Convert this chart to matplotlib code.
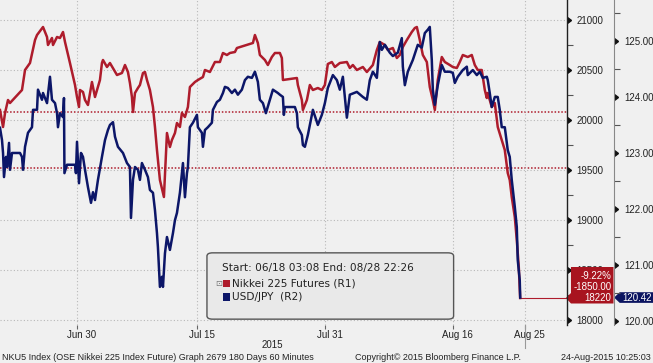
import numpy as np
import pandas as pd
import matplotlib
matplotlib.use("Agg")
import matplotlib.pyplot as plt
import matplotlib.transforms as mtransforms
from matplotlib.patches import Polygon, FancyBboxPatch, Rectangle

# time axis: fractional days since 2015-06-18 (60 minute bars)
start = pd.Timestamp("2015-06-18")

# Nikkei 225 futures (R1)
nk_days = [2.38, 2.76, 3.01, 3.38, 3.63, 5.13, 5.26, 5.51, 6.13, 6.76,
           7.01, 7.76, 8.26, 8.38, 8.88, 9.01, 9.51, 9.88, 10.26, 10.51,
           11.13, 11.76, 12.01, 12.26, 12.38, 12.76, 13.01, 13.38, 13.88, 14.26,
           14.88, 15.13, 15.26, 15.76, 16.13, 17.01, 17.63, 18.01, 18.38, 18.63,
           18.88, 19.01, 19.26, 19.63, 19.88, 20.26, 20.51, 20.76, 21.13, 21.51,
           21.76, 22.01, 22.38, 22.88, 23.26, 23.63, 23.88, 24.26, 24.51, 24.88,
           25.13, 25.51, 25.88, 26.13, 26.76, 27.13, 27.76, 28.01, 28.63, 29.26,
           29.88, 30.26, 30.76, 31.13, 31.76, 32.01, 34.01, 34.26, 34.63, 34.88,
           35.51, 35.88, 36.38, 36.76, 37.38, 37.63, 37.76, 39.51, 39.63, 40.13,
           40.26, 40.76, 41.13, 41.51, 42.13, 42.63, 43.01, 43.38, 43.88, 44.26,
           44.88, 45.76, 46.13, 46.51, 47.01, 47.76, 48.26, 49.01, 49.51, 49.88,
           50.51, 50.88, 51.51, 52.01, 52.38, 52.76, 53.26, 53.88, 54.26, 54.51,
           54.88, 55.26, 55.76, 56.13, 56.51, 56.76, 57.13, 57.63, 58.01, 58.63,
           59.01, 59.51, 59.88, 60.26, 60.88, 61.38, 61.76, 62.13, 62.63, 63.01,
           63.26, 63.38, 63.88, 64.26, 64.63, 65.13, 65.51, 65.88, 66.13, 66.38,
           66.76, 67.01, 67.26, 67.43]
nk_vals = [20100, 19930, 20070, 20200, 20170, 20300, 20370, 20500, 20570, 20800,
           20850, 20930, 20830, 20750, 20820, 20750, 20830, 20820, 20880, 20780,
           20570, 20350, 20230, 20130, 20300, 20280, 20200, 20150, 20380, 20230,
           20400, 20570, 20600, 20530, 20570, 20450, 20470, 20550, 20480, 20370,
           20230, 20080, 20270, 20320, 20350, 20470, 20480, 20400, 20300, 20130,
           19930, 19700, 19400, 19230, 19870, 19730, 19800, 19870, 19970, 19930,
           20070, 20030, 20130, 20330, 20380, 20400, 20430, 20500, 20480, 20580,
           20580, 20670, 20650, 20670, 20680, 20720, 20770, 20850, 20770, 20650,
           20600, 20550, 20630, 20670, 20670, 20620, 20400, 20420, 20350, 20200,
           20100, 20200, 20350, 20300, 20320, 20300, 20350, 20560, 20580, 20530,
           20570, 20580, 20520, 20550, 20500, 20530, 20480, 20550, 20700, 20780,
           20750, 20700, 20720, 20620, 20650, 20730, 20800, 20880, 20920, 20930,
           20800, 20650, 20580, 20330, 20200, 20100, 20400, 20630, 20580, 20550,
           20530, 20520, 20580, 20650, 20630, 20650, 20550, 20500, 20500, 20300,
           20220, 20270, 20130, 20170, 19930, 19800, 19700, 19470, 19400, 19230,
           19030, 18800, 18530, 18220]

# USD/JPY (R2)
fx_days = [2.38, 2.63, 2.76, 2.88, 3.13, 3.26, 3.51, 3.63, 3.88, 4.88,
           5.13, 5.26, 5.51, 5.88, 6.38, 6.51, 7.01, 7.13, 7.63, 7.76,
           8.26, 8.63, 8.88, 9.26, 9.51, 9.63, 9.88, 10.26, 10.38, 10.44,
           10.76, 11.76, 11.88, 12.01, 12.26, 12.51, 12.76, 13.01, 13.38, 13.76,
           14.01, 14.26, 14.63, 15.13, 15.51, 15.88, 16.13, 16.51, 16.76, 17.13,
           17.76, 18.26, 18.63, 18.76, 19.01, 19.26, 19.63, 19.88, 20.13, 20.51,
           20.88, 21.13, 21.51, 21.76, 22.01, 22.13, 22.38, 22.63, 22.76, 23.01,
           23.26, 23.63, 24.01, 24.26, 24.51, 24.88, 25.26, 25.51, 25.76, 25.88,
           26.13, 26.51, 27.01, 27.13, 27.63, 27.76, 28.01, 28.38, 28.88, 29.01,
           29.51, 29.88, 30.26, 30.51, 30.88, 31.38, 31.76, 32.13, 32.63, 33.01,
           33.38, 33.88, 34.26, 34.63, 34.88, 35.26, 35.63, 36.13, 36.51, 37.13,
           37.38, 37.76, 37.88, 38.01, 39.26, 39.51, 39.63, 40.13, 40.26, 40.51,
           40.88, 41.13, 41.51, 42.13, 42.63, 43.01, 43.38, 44.01, 44.51, 44.88,
           45.26, 45.76, 46.13, 47.01, 47.76, 48.26, 48.63, 49.01, 49.51, 49.88,
           50.13, 50.51, 51.13, 51.51, 52.13, 52.63, 52.76, 53.01, 53.38, 54.01,
           54.63, 55.13, 55.51, 55.88, 56.13, 56.38, 56.51, 56.76, 57.13, 57.63,
           58.01, 58.63, 59.01, 59.26, 59.63, 60.26, 60.76, 60.88, 61.51, 62.01,
           62.38, 62.76, 63.26, 63.38, 63.63, 63.88, 64.26, 64.63, 64.88, 65.13,
           65.51, 65.88, 66.13, 66.38, 66.76, 67.01, 67.13, 67.38, 67.44]
fx_vals = [123.45, 123.23, 123.00, 122.57, 122.93, 122.75, 123.18, 122.70, 123.00, 123.00,
           122.93, 122.70, 123.11, 123.36, 123.46, 123.77, 123.77, 124.13, 123.95, 124.07,
           123.89, 124.36, 123.95, 123.89, 123.71, 123.46, 123.71, 123.64, 123.98, 122.64,
           122.79, 122.79, 122.64, 123.20, 122.46, 123.00, 122.93, 122.70, 122.39, 122.11,
           122.30, 122.16, 122.52, 122.93, 123.23, 123.41, 123.50, 123.55, 123.29, 123.11,
           123.00, 122.82, 122.75, 121.84, 122.52, 122.75, 122.70, 122.52, 122.82, 122.70,
           122.57, 122.34, 122.29, 121.98, 121.57, 121.32, 120.61, 120.79, 120.61, 121.21,
           121.50, 121.27, 121.57, 121.80, 121.93, 122.29, 122.82, 122.21, 122.64, 122.75,
           123.46, 123.54, 123.68, 123.46, 123.36, 123.11, 123.41, 123.46, 123.54, 123.77,
           123.91, 123.95, 124.07, 124.18, 124.16, 124.07, 124.13, 124.04, 124.13, 124.30,
           124.36, 124.34, 124.45, 124.27, 123.95, 123.89, 123.71, 123.95, 124.13, 124.07,
           124.04, 124.00, 123.68, 123.82, 123.82, 123.71, 123.46, 123.32, 123.14, 123.11,
           123.32, 123.50, 123.77, 123.50, 123.68, 123.89, 124.16, 124.39, 124.30, 124.13,
           124.36, 123.63, 124.04, 124.09, 124.00, 123.95, 124.30, 124.45, 124.34, 124.98,
           124.84, 124.93, 124.79, 124.73, 124.79, 125.05, 124.54, 124.21, 124.45, 124.66,
           124.93, 124.88, 125.14, 125.20, 125.25, 124.66, 124.13, 123.86, 124.21, 124.57,
           124.45, 124.45, 124.43, 124.25, 124.36, 124.48, 124.54, 124.39, 124.48, 124.39,
           124.45, 124.34, 124.36, 124.30, 124.07, 123.82, 124.00, 124.00, 123.77, 123.46,
           123.46, 123.05, 122.93, 122.52, 122.04, 121.68, 121.09, 120.73, 120.42]

tick_dates = ["2015-06-30", "2015-07-15", "2015-07-31", "2015-08-16", "2015-08-25"]
tick_labels = ["Jun 30", "Jul 15", "Jul 31", "Aug 16", "Aug 25"]
r1_ticks = [18000, 18500, 19000, 19500, 20000, 20500, 21000]
r2_ticks = [120, 121, 122, 123, 124, 125]
ref_levels = [20080, 19520]
nk_badge = ["-9.22%", "-1850.00", "18220"]
fx_badge = "120.42"

BG = "#f0f0f0"
RED = "#ae1c2c"
NAVY = "#0c1668"
GRID = "#b8b8b8"
SANS = "Liberation Sans"
TXT = "#222222"

fig = plt.figure(figsize=(6.53, 3.63), dpi=100, facecolor=BG)
ax = fig.add_axes([0, 38 / 363, 567 / 653, 325 / 363])
ax.set_facecolor(BG)
ax2 = ax.twinx()

ax.set_xlim(2.38, 73.29)
ax.set_ylim(17950, 21200)
ax2.set_ylim(119.93, 125.73)

for s in ["left", "top", "bottom", "right"]:
    ax.spines[s].set_visible(False)
for s in ["left", "top", "bottom"]:
    ax2.spines[s].set_visible(False)
ax2.spines["right"].set_color("#202020")
ax2.spines["right"].set_linewidth(1)
ax2.set_yticks([])

# separate spine for the R2 scale
ax3 = ax.twinx()
ax3.set_ylim(ax2.get_ylim())
for s in ["left", "top", "bottom"]:
    ax3.spines[s].set_visible(False)
ax3.spines["right"].set_position(("outward", 34))
ax3.spines["right"].set_color("#888888")

# x axis
tick_pos = [(pd.Timestamp(d) - start).days for d in tick_dates]
ax.set_xticks(tick_pos)
ax.set_xticklabels(tick_labels, fontsize=7, family=SANS, color=TXT)
ax.tick_params(axis="x", length=3, width=0.8, color="#666666", pad=0.5)
offset = mtransforms.ScaledTranslation(0.05, 0, fig.dpi_scale_trans)
for lab in ax.get_xticklabels():
    lab.set_transform(lab.get_transform() + offset)

# R1 scale
ax.yaxis.tick_right()
ax.set_yticks(r1_ticks)
ax.set_yticks(np.arange(18250, 21200, 500), minor=True)
ax.set_yticklabels([str(v) for v in r1_ticks], fontsize=7, family=SANS, color=TXT)
ax.tick_params(axis="y", which="major", length=4, width=1, color="#111111", pad=3)
ax.tick_params(axis="y", which="minor", length=4, width=0.8, color="#555555")
for t in ax.yaxis.get_major_ticks():
    t.tick2line.set_marker(9)
    t.tick2line.set_markersize(4)

# R2 scale
ax3.set_yticks(r2_ticks)
ax3.set_yticks(np.arange(120.5, 125.6, 1.0), minor=True)
ax3.set_yticklabels([f"{v:.2f}" for v in r2_ticks], fontsize=7, family=SANS, color=TXT)
ax3.tick_params(axis="y", which="major", length=4, width=1, color="#111111", pad=3)
ax3.tick_params(axis="y", which="minor", length=4, width=0.8, color="#555555")
for t in ax3.yaxis.get_major_ticks():
    t.tick2line.set_marker(9)
    t.tick2line.set_markersize(4)

ax.grid(True, which="major", color=GRID, linestyle=(0, (1, 2)), linewidth=0.8)
for lvl in ref_levels:
    ax.axhline(lvl, color=RED, linestyle=(0, (1, 1.2)), linewidth=1.1, zorder=1.5)

# series
ax.plot(nk_days, nk_vals, color=RED, lw=1.8, zorder=3)
ax.plot([nk_days[-1], ax.get_xlim()[1]], [nk_vals[-1], nk_vals[-1]], color=RED, lw=0.8, zorder=3)
ax2.plot(fx_days, fx_vals, color=NAVY, lw=1.8, zorder=3)

# separator under the last date
ax.axvline(tick_pos[-1], ymin=-0.07, ymax=0, color="#999999", lw=0.8, clip_on=False)

# last value badges
tr1 = mtransforms.blended_transform_factory(ax.transAxes, ax.transData)
last = nk_vals[-1]
ax.add_patch(Polygon([(0.998, last), (1.007, last + 50), (1.007, last + 310),
                      (1.082, last + 310), (1.082, last - 55), (1.007, last - 55)],
                     closed=True, transform=tr1, facecolor="#a8141f",
                     edgecolor="none", clip_on=False, zorder=10))
for i, s in enumerate(nk_badge):
    ax.text(1.078, last + (2 - i) * 112, s, transform=tr1, ha="right", va="center",
            fontsize=7, family=SANS, color="white", clip_on=False, zorder=11)

tr2 = mtransforms.blended_transform_factory(ax.transAxes, ax2.transData)
lastfx = fx_vals[-1]
ax2.add_patch(Polygon([(1.083, lastfx), (1.093, lastfx + 0.095), (1.155, lastfx + 0.095),
                       (1.155, lastfx - 0.095), (1.093, lastfx - 0.095)],
                      closed=True, transform=tr2, facecolor="#0b1460",
                      edgecolor="none", clip_on=False, zorder=10))
ax2.text(1.124, lastfx, fx_badge, transform=tr2, ha="center", va="center",
         fontsize=7, family=SANS, color="white", clip_on=False, zorder=11)

# legend box
box = FancyBboxPatch((0.365, 0.018), 0.435, 0.204, transform=ax.transAxes,
                     boxstyle="round,pad=0,rounding_size=0.01",
                     facecolor="#e9e9e9", edgecolor="#555555", lw=1, zorder=12)
ax2.add_patch(box)
ax2.text(0.3915, 0.175, "Start: 06/18 03:08 End: 08/28 22:26", transform=ax.transAxes,
         fontsize=7.6, color=TXT, va="center", ha="left", zorder=13)
ax2.text(0.379, 0.129, "\u22a1", transform=ax.transAxes, fontsize=6, color="#777777",
         va="center", ha="left", zorder=13)
for k, (lab, col) in enumerate([("Nikkei 225 Futures (R1)", RED), ("USD/JPY  (R2)", NAVY)]):
    yy = 0.129 - k * 0.043
    ax2.add_patch(Rectangle((0.3935, yy - 0.011), 0.0125, 0.022, transform=ax.transAxes,
                            facecolor=col, edgecolor="none", zorder=13))
    ax2.text(0.409, yy, lab, transform=ax.transAxes, fontsize=7.6, color=TXT,
             va="center", ha="left", zorder=13)

# footer
fig.text(272 / 653, 1 - 345 / 363, "2015", fontsize=7, family=SANS, color=TXT,
         ha="center", va="center")
fig.text(2 / 653, 1 - 357 / 363, "NKU5 Index (OSE Nikkei 225 Index Future) Graph 2679 180 Days 60 Minutes",
         fontsize=6.5, family=SANS, color=TXT, ha="left", va="center")
fig.text(355 / 653, 1 - 357 / 363, "Copyright\u00a9 2015 Bloomberg Finance L.P.",
         fontsize=6.5, family=SANS, color=TXT, ha="left", va="center")
fig.text(651 / 653, 1 - 357 / 363, "24-Aug-2015 10:25:03",
         fontsize=6.5, family=SANS, color=TXT, ha="right", va="center")

fig.savefig("out.png", dpi=100, facecolor=BG)
